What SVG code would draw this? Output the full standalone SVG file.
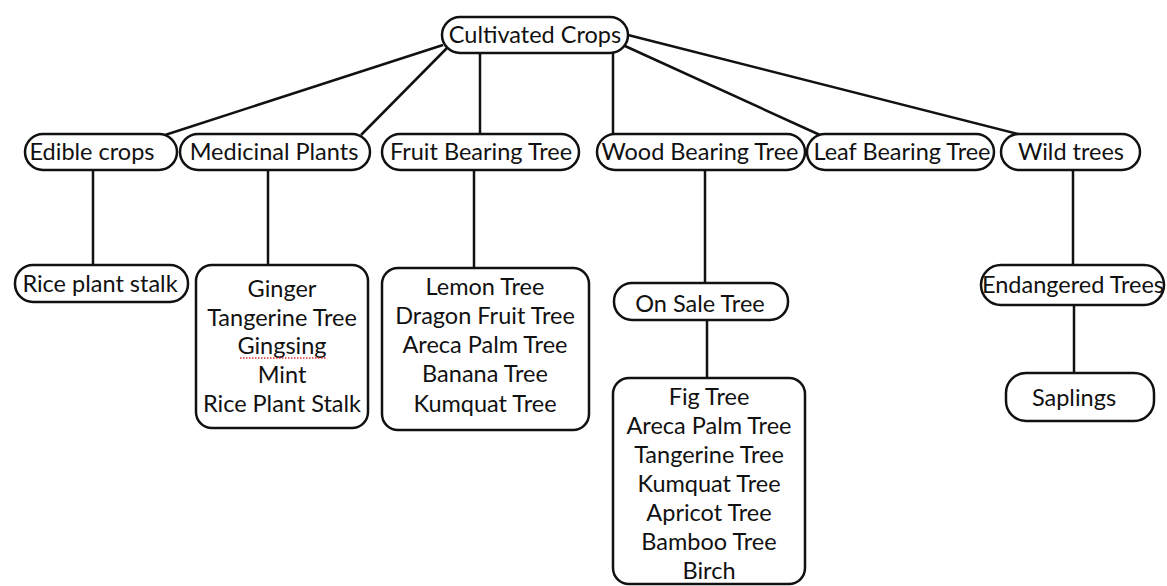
<svg xmlns="http://www.w3.org/2000/svg" width="1167" height="586" viewBox="0 0 1167 586">
<style>
.n{fill:#fff;stroke:#111;stroke-width:2.5}
.t{font-family:Lato,"Liberation Sans",sans-serif;font-size:23.5px;fill:#111;text-anchor:middle}
.c line{stroke:#111;stroke-width:2.5}
</style>
<rect width="1167" height="586" fill="#fff"/>
<g class="c" id="connectors">
<line x1="443" y1="45" x2="165" y2="135"/>
<line x1="448" y1="47" x2="361" y2="135"/>
<line x1="480" y1="53" x2="480" y2="134"/>
<line x1="613" y1="53" x2="613" y2="134"/>
<line x1="625" y1="46" x2="820" y2="135"/>
<line x1="628" y1="35" x2="1022" y2="135"/>
<line x1="93" y1="170" x2="93" y2="265"/>
<line x1="268" y1="170" x2="268" y2="265"/>
<line x1="474" y1="170" x2="474" y2="268"/>
<line x1="705" y1="170" x2="705" y2="283"/>
<line x1="707" y1="320" x2="707" y2="378"/>
<line x1="1073" y1="170" x2="1073" y2="265"/>
<line x1="1074" y1="305" x2="1074" y2="373"/>
</g>
<g id="root"><rect class="n" x="442" y="17" width="186" height="36" rx="18"/><text class="t" x="535" y="43">Cultivated Crops</text></g>
<g id="edible"><rect class="n" x="25" y="134" width="152" height="36" rx="18"/><text class="t" x="92" y="160">Edible crops</text></g>
<g id="medicinal"><rect class="n" x="180" y="134" width="190" height="36" rx="18"/><text class="t" x="274" y="160">Medicinal Plants</text></g>
<g id="fruit"><rect class="n" x="382" y="134" width="197" height="36" rx="18"/><text class="t" x="481" y="160">Fruit Bearing Tree</text></g>
<g id="wood"><rect class="n" x="597" y="134" width="208" height="36" rx="18"/><text class="t" x="700" y="160">Wood Bearing Tree</text></g>
<g id="leaf"><rect class="n" x="807" y="134" width="187" height="36" rx="18"/><text class="t" x="902" y="160">Leaf Bearing Tree</text></g>
<g id="wild"><rect class="n" x="1001" y="134" width="139" height="36" rx="18"/><text class="t" x="1071" y="160">Wild trees</text></g>
<g id="rice"><rect class="n" x="15" y="265" width="173" height="37" rx="18"/><text class="t" x="100" y="292">Rice plant stalk</text></g>
<g id="medlist"><rect class="n" x="196" y="265" width="172" height="163" rx="16"/>
<text class="t" x="282" y="297">Ginger</text>
<text class="t" x="282" y="326">Tangerine Tree</text>
<text class="t" x="282" y="354">Gingsing</text>
<text class="t" x="282" y="383">Mint</text>
<text class="t" x="282" y="412">Rice Plant Stalk</text>
<line x1="240" y1="358" x2="326" y2="358" stroke="#d33" stroke-width="1.5" stroke-dasharray="1.5 1.5"/>
</g>
<g id="fruitlist"><rect class="n" x="382" y="268" width="207" height="162" rx="16"/>
<text class="t" x="485" y="295">Lemon Tree</text>
<text class="t" x="485" y="324">Dragon Fruit Tree</text>
<text class="t" x="485" y="353">Areca Palm Tree</text>
<text class="t" x="485" y="382">Banana Tree</text>
<text class="t" x="485" y="412">Kumquat Tree</text>
</g>
<g id="onsale"><rect class="n" x="614" y="283" width="174" height="37" rx="18"/><text class="t" x="700" y="312">On Sale Tree</text></g>
<g id="woodlist"><rect class="n" x="613" y="378" width="192" height="206" rx="16"/>
<text class="t" x="709" y="405">Fig Tree</text>
<text class="t" x="709" y="434">Areca Palm Tree</text>
<text class="t" x="709" y="463">Tangerine Tree</text>
<text class="t" x="709" y="492">Kumquat Tree</text>
<text class="t" x="709" y="521">Apricot Tree</text>
<text class="t" x="709" y="550">Bamboo Tree</text>
<text class="t" x="709" y="579">Birch</text>
</g>
<g id="endangered"><rect class="n" x="981" y="265" width="183" height="40" rx="20"/><text class="t" x="1073" y="293">Endangered Trees</text></g>
<g id="saplings"><rect class="n" x="1006" y="373" width="148" height="48" rx="20"/><text class="t" x="1074" y="406">Saplings</text></g>
</svg>
